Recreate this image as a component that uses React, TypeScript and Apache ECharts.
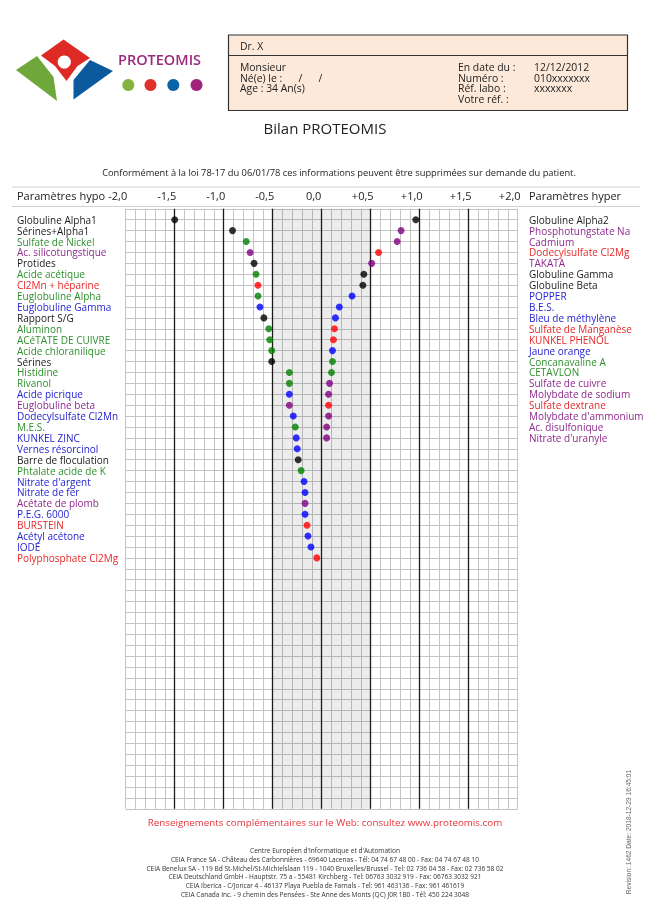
import React, { useEffect, useRef } from "react";
import * as echarts from "echarts";

const leftNames = [
  "Globuline Alpha1", "Sérines+Alpha1", "Sulfate de Nickel", "Ac. silicotungstique", "Protides",
  "Acide acétique", "Cl2Mn + héparine", "Euglobuline Alpha", "Euglobuline Gamma", "Rapport S/G",
  "Aluminon", "ACéTATE DE CUIVRE", "Acide chloranilique", "Sérines", "Histidine", "Rivanol",
  "Acide picrique", "Euglobuline beta", "Dodecylsulfate Cl2Mn", "M.E.S.", "KUNKEL ZINC",
  "Vernes résorcinol", "Barre de floculation", "Phtalate acide de K", "Nitrate d'argent",
  "Nitrate de fer", "Acétate de plomb", "P.E.G. 6000", "BURSTEIN", "Acétyl acétone", "IODE",
  "Polyphosphate Cl2Mg",
];
const leftValues = [
  -1.5, -0.91, -0.77, -0.73, -0.69, -0.67, -0.65, -0.65, -0.63, -0.59, -0.54, -0.53, -0.51, -0.51,
  -0.33, -0.33, -0.33, -0.33, -0.29, -0.27, -0.26, -0.25, -0.24, -0.21, -0.18, -0.17, -0.17, -0.17,
  -0.15, -0.14, -0.11, -0.05,
];
const leftColors = [
  "k", "k", "g", "p", "k", "g", "r", "g", "b", "k", "g", "g", "g", "k", "g", "g",
  "b", "p", "b", "g", "b", "b", "k", "g", "b", "b", "p", "b", "r", "b", "b", "r",
];

const rightNames = [
  "Globuline Alpha2", "Phosphotungstate Na", "Cadmium", "Dodecylsulfate Cl2Mg", "TAKATA",
  "Globuline Gamma", "Globuline Beta", "POPPER", "B.E.S.", "Bleu de méthylène",
  "Sulfate de Manganèse", "KUNKEL PHENOL", "Jaune orange", "Concanavaline A", "CETAVLON",
  "Sulfate de cuivre", "Molybdate de sodium", "Sulfate dextrane", "Molybdate d'ammonium",
  "Ac. disulfonique", "Nitrate d'uranyle",
];
const rightValues = [
  0.96, 0.81, 0.77, 0.58, 0.51, 0.43, 0.42, 0.31, 0.18, 0.14, 0.13, 0.12, 0.11, 0.11, 0.1,
  0.08, 0.07, 0.07, 0.07, 0.05, 0.05,
];
const rightColors = [
  "k", "p", "p", "r", "p", "k", "k", "b", "b", "b", "r", "r", "b", "g", "g",
  "p", "p", "r", "p", "p", "p",
];

const majorLines = [-1.5, -1.0, -0.5, 0, 0.5, 1.0, 1.5];
const normalRange = [-0.5, 0.5];
const rowCount = 55;

const dotColor: Record<string, string> = {
  k: "#000000", g: "#008000", p: "#800080", r: "#ff0000", b: "#0000ff",
};
const textColor: Record<string, string> = {
  k: "#1a1a1a", g: "#2f8f2f", p: "#8e2a8e", r: "#e62828", b: "#2424d2",
};

const footerLines = [
  "Centre Européen d'Informatique et d'Automation",
  "CEIA France SA - Château des Carbonnières - 69640 Lacenas - Tél: 04 74 67 48 00 - Fax: 04 74 67 48 10",
  "CEIA Benelux SA - 119 Bd St-Michel/St-Michielslaan 119 - 1040 Bruxelles/Brussel - Tel: 02 736 04 58 - Fax: 02 736 58 02",
  "CEIA Deutschland GmbH - Hauptstr. 75 a - 55481 Kirchberg - Tel: 06763 3032 919 - Fax: 06763 3032 921",
  "CEIA Iberica - C/Joncar 4 - 46137 Playa Puebla de Farnals - Tel: 961 463136 - Fax: 961 461619",
  "CEIA Canada Inc. - 9 chemin des Pensées - Ste Anne des Monts (QC) J0R 1B0 - Tél: 450 224 3048",
];

const FONT = "'Open Sans', sans-serif";

function txt(text: string, x: number, y: number, size: number, fill: string, align = "left", weight: any = "normal") {
  return {
    type: "text",
    silent: true,
    style: {
      text, x, y, fill,
      font: `${weight} ${size}px ${FONT}`,
      lineHeight: Math.round(size * 0.95 * 10) / 10,
      textAlign: align,
      textVerticalAlign: "middle",
    },
  };
}

export default function App() {
  const ref = useRef<HTMLDivElement>(null);

  useEffect(() => {
    if (!ref.current) return;
    const chart = echarts.init(ref.current, null, { renderer: "svg" });

    const rich: any = {};
    Object.keys(textColor).forEach((k) => {
      rich[k] = { color: textColor[k], fontSize: 10, fontFamily: FONT, lineHeight: 10 };
    });
    const labelFor = (names: string[], colors: string[]) => (v: number) => {
      const i = Math.round(v) - 1;
      if (i < 0 || i >= names.length) return "";
      return `{${colors[i]}|${names[i]}}`;
    };

    const fmtTick = (v: number) => {
      const r = Math.round(v * 10) / 10;
      const s = Math.abs(r).toFixed(1).replace(".", ",");
      if (r === 0) return "0,0";
      return (r > 0 ? "+" : "-") + s;
    };

    const gridLeft = 125.7;
    const gridTop = 208.8;
    const gridW = 392;
    const gridH = 600;

    const boxFont = 10.4;
    const graphic: any[] = [
      { type: "line", silent: true, shape: { x1: 12, y1: 187, x2: 640, y2: 187 }, style: { stroke: "#d0d0d0", lineWidth: 1 } },
      { type: "line", silent: true, shape: { x1: 12, y1: 206.5, x2: 640, y2: 206.5 }, style: { stroke: "#d0d0d0", lineWidth: 1 } },
      txt("Paramètres hypo", 17, 195.5, 11, "#222"),
      txt("Paramètres hyper", 529, 195.5, 11, "#222"),
      // logo
      { type: "polygon", silent: true, shape: { points: [[16, 70], [37, 56], [53.5, 77], [57, 101]] }, style: { fill: "#6ea83a" } },
      { type: "polygon", silent: true, shape: { points: [[41, 55.5], [63.5, 39.5], [90, 58], [77.5, 66], [66.5, 81], [55, 66]] }, style: { fill: "#dd2a25" } },
      { type: "circle", silent: true, shape: { cx: 64.3, cy: 62, r: 6.6 }, style: { fill: "#ffffff" } },
      { type: "polygon", silent: true, shape: { points: [[90, 60], [113, 71], [73.5, 99.5], [73.5, 80]] }, style: { fill: "#0b5a9e" } },
      txt("PROTEOMIS", 118, 59.5, 14.5, "#9b2a7e", "left", 600),
      { type: "circle", silent: true, shape: { cx: 128.3, cy: 85, r: 6 }, style: { fill: "#84b33f" } },
      { type: "circle", silent: true, shape: { cx: 150.5, cy: 85, r: 6 }, style: { fill: "#e0302a" } },
      { type: "circle", silent: true, shape: { cx: 173.3, cy: 85, r: 6 }, style: { fill: "#0b64a8" } },
      { type: "circle", silent: true, shape: { cx: 196.5, cy: 85, r: 6 }, style: { fill: "#a0237a" } },
      // header box
      { type: "rect", silent: true, shape: { x: 228.5, y: 35, width: 399, height: 75.5 }, style: { fill: "#fde9d9", stroke: "#333", lineWidth: 1.2 } },
      { type: "line", silent: true, shape: { x1: 228.5, y1: 55.5, x2: 627.5, y2: 55.5 }, style: { stroke: "#333", lineWidth: 1.2 } },
      txt("Dr. X", 240, 46, boxFont, "#222"),
      txt("Monsieur", 240, 67, boxFont, "#222"),
      txt("Né(e) le :      /      /", 240, 77.6, boxFont, "#222"),
      txt("Age : 34 An(s)", 240, 88.2, boxFont, "#222"),
      txt("En date du :", 458, 67, boxFont, "#222"),
      txt("Numéro :", 458, 77.6, boxFont, "#222"),
      txt("Réf. labo :", 458, 88.2, boxFont, "#222"),
      txt("Votre réf. :", 458, 98.8, boxFont, "#222"),
      txt("12/12/2012", 534, 67, boxFont, "#222"),
      txt("010xxxxxxx", 534, 77.6, boxFont, "#222"),
      txt("xxxxxxx", 534, 88.2, boxFont, "#222"),
      // titles
      txt("Bilan PROTEOMIS", 325, 128, 15, "#222", "center"),
      txt("Conformément à la loi 78-17 du 06/01/78 ces informations peuvent être supprimées sur demande du patient.", 339, 172.5, 9.3, "#222", "center"),
      txt("Renseignements complémentaires sur le Web: consultez www.proteomis.com", 325, 822, 9.8, "#e8343a", "center"),
    ];
    footerLines.forEach((l, i) => {
      graphic.push(txt(l, 325, 850.7 + i * 8.67, 6.55, "#333", "center"));
    });
    graphic.push({
      type: "text",
      silent: true,
      x: 628.5,
      y: 832,
      rotation: Math.PI / 2,
      style: {
        text: "Revision: 1462 Date: 2018-12-29 16:45:01",
        x: 0, y: 0,
        fill: "#666",
        font: "6.6px 'Liberation Sans', Arial, sans-serif",
        textAlign: "center",
        textVerticalAlign: "middle",
      },
    });

    const mkData = (vals: number[], cols: string[]) =>
      vals.map((v, i) => ({ value: [v, i + 1], itemStyle: { color: dotColor[cols[i]] } }));

    chart.setOption({
      animation: false,
      textStyle: { fontFamily: FONT },
      grid: { left: gridLeft, top: gridTop, width: gridW, height: gridH, containLabel: false },
      xAxis: [
        {
          type: "value", min: -2, max: 2, interval: 0.1,
          axisLabel: { show: false }, axisTick: { show: false }, axisLine: { show: false },
          splitLine: { show: true, lineStyle: { color: "#c4c4c4", width: 1 } },
        },
        {
          type: "value", min: -2, max: 2, interval: 0.5, position: "top",
          axisLabel: {
            show: true, formatter: fmtTick, color: "#222", fontSize: 11, fontFamily: FONT,
            margin: 8, padding: [0, 16, 0, 0],
          },
          axisTick: { show: false }, axisLine: { show: false }, splitLine: { show: false },
        },
      ],
      yAxis: [
        {
          type: "value", min: 0, max: rowCount, interval: 1, inverse: true, position: "left",
          axisLine: { show: false }, axisTick: { show: false },
          splitLine: { show: true, lineStyle: { color: "#c4c4c4", width: 1 } },
          axisLabel: {
            show: true, formatter: labelFor(leftNames, leftColors), align: "left",
            margin: gridLeft - 17, rich, fontSize: 10, lineHeight: 10,
          },
        },
        {
          type: "value", min: 0, max: rowCount, interval: 1, inverse: true, position: "right",
          axisLine: { show: false }, axisTick: { show: false }, splitLine: { show: false },
          axisLabel: {
            show: true, formatter: labelFor(rightNames, rightColors), align: "left",
            margin: 529 - (gridLeft + gridW), rich, fontSize: 10, lineHeight: 10,
          },
        },
      ],
      graphic,
      series: [
        {
          type: "scatter", xAxisIndex: 0, yAxisIndex: 0, symbolSize: 7, z: 5,
          data: mkData(leftValues, leftColors),
          markArea: {
            silent: true,
            itemStyle: { color: "rgba(0,0,0,0.075)" },
            data: [[{ xAxis: normalRange[0] }, { xAxis: normalRange[1] }]],
          },
          markLine: {
            silent: true, symbol: "none", label: { show: false },
            lineStyle: { color: "#1c1c1c", width: 1.3, type: "solid" },
            data: majorLines.map((v) => ({ xAxis: v })),
          },
        },
        {
          type: "scatter", xAxisIndex: 0, yAxisIndex: 0, symbolSize: 7, z: 5,
          data: mkData(rightValues, rightColors),
        },
      ],
    });

    return () => chart.dispose();
  }, []);

  return <div ref={ref} style={{ position: "fixed", left: 0, top: 0, width: 650, height: 918 }} />;
}
